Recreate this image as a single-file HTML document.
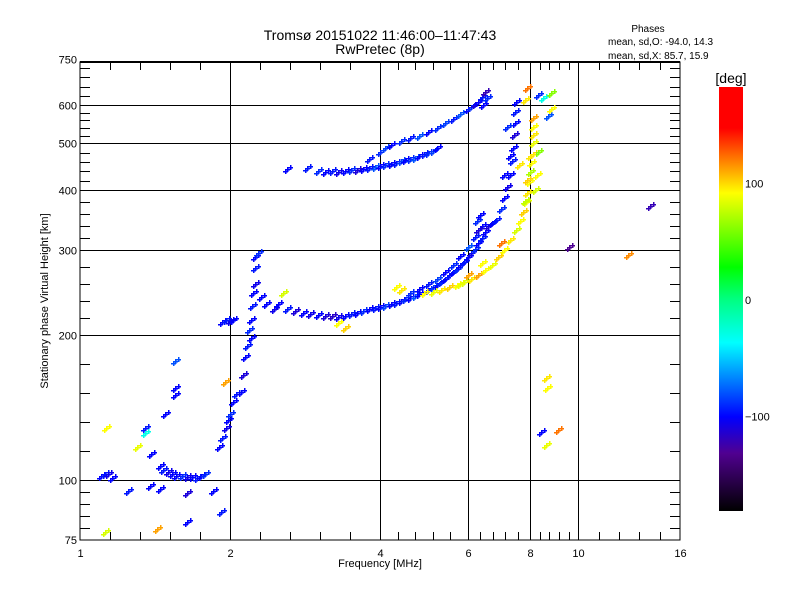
<!DOCTYPE html>
<html><head><meta charset="utf-8">
<style>
body{margin:0;background:#fff;}
svg text{font-family:"Liberation Sans",sans-serif;fill:#000;}
</style></head>
<body>
<svg id="chart" width="800" height="600" viewBox="0 0 800 600" xmlns="http://www.w3.org/2000/svg">
<defs>
<linearGradient id="cbar" x1="0" y1="1" x2="0" y2="0">
<stop offset="0" stop-color="#000000"/>
<stop offset="0.136" stop-color="#500090"/>
<stop offset="0.222" stop-color="#0000ff"/>
<stop offset="0.397" stop-color="#00ffff"/>
<stop offset="0.5" stop-color="#00ff80"/>
<stop offset="0.575" stop-color="#00ff00"/>
<stop offset="0.75" stop-color="#ffff00"/>
<stop offset="0.903" stop-color="#ff0000"/>
<stop offset="1" stop-color="#ff0000"/>
</linearGradient>
</defs>
<text x="380" y="40" font-size="14" text-anchor="middle">Tromsø 20151022 11:46:00–11:47:43</text>
<text x="380" y="54" font-size="14" text-anchor="middle">RwPretec (8p)</text>
<text x="648" y="32" font-size="10" text-anchor="middle">Phases</text>
<text x="608" y="45" font-size="10">mean, sd,O: -94.0, 14.3</text>
<text x="608" y="59" font-size="10">mean, sd,X:  85.7, 15.9</text>
<g id="grid"></g>
<g id="points"></g>
<rect x="80" y="62" width="600" height="478" fill="none" stroke="#000" stroke-width="1"/>
<line x1="80" y1="62" x2="680" y2="62" stroke="#000" stroke-width="2"/>
<g id="ticks"></g>
<text x="380" y="567" font-size="11" text-anchor="middle">Frequency [MHz]</text>
<text x="48" y="301" font-size="11" text-anchor="middle" transform="rotate(-90 48 301)">Stationary phase Virtual Height [km]</text>
<rect x="719" y="87" width="24" height="424" fill="url(#cbar)"/>
<text x="731" y="83" font-size="14" text-anchor="middle">[deg]</text>
<g id="cticks"></g>
</svg>
<script>
const xTicks=[1,2,4,6,8,10,16];
const yTicks=[75,100,200,300,400,500,600,750];
const cTicks=[100,0,-100];
// O trace (blue) and misc echoes: frequency MHz, height km, phase deg
const oFreq=[1.1,1.12,1.14,1.16,1.45,1.47,1.5,1.53,1.56,1.6,1.64,1.68,1.72,1.75,1.78,
1.9,1.93,1.96,1.98,2.0,2.03,2.06,2.1,2.12,2.14,2.16,2.2,1.93,1.96,2.0,2.03,2.18,2.2,2.21,2.22,2.25,2.24,2.25,2.28,2.31,2.36,2.45,
2.5,2.6,2.7,2.8,2.9,3.0,3.1,3.2,3.3,3.4,3.5,3.6,3.7,3.8,3.9,4.0,4.1,4.2,4.3,4.4,4.5,4.6,4.7,4.8,4.9,5.0,5.1,5.2,5.3,5.4,5.5,5.6,5.7,5.8,5.9,6.0,6.1,6.2,6.3,6.4,6.5,6.6,6.7,6.85,7.0,7.1,7.2,7.3,7.35,7.4,7.42,7.45,7.47,7.5,
4.6,4.8,5.0,5.2,5.4,5.6,5.8,6.0,6.2,6.4,6.25,6.35,6.3,
2.6,2.85,3.0,3.1,3.2,3.3,3.4,3.5,3.6,3.7,3.8,3.9,4.0,4.1,4.2,4.3,4.4,4.5,4.6,4.7,4.8,4.9,5.0,5.1,5.2,
3.8,4.0,4.1,4.2,4.4,4.6,4.8,5.0,5.2,5.4,5.6,5.8,6.0,6.1,6.2,6.3,6.4,6.5,6.45,6.55,
1.55,1.55,1.55,1.48,1.35,1.25,1.38,1.45,1.64,1.64,1.85,1.92,1.39,
13.9,9.6,8.4,8.3,8.5,8.7,7.3,7.2,7.1];
const oHeight=[102,103,103,101,107,105,104,103,102,102,101.5,101.5,101,102,103,
117,122,128,133,137,145,151,152,165,180,190,197,213,215,214,215,205,215,230,244,255,275,290,296,240,232,226,
232,226,224,222,221,220,219,219,218,219,221,222,224,226,228,229,230,232,233,235,237,239,241,243,245,248,251,254,258,262,266,270,274,279,284,290,296,302,310,318,327,337,342,346,365,385,405,430,460,490,520,550,580,610,
244,249,255,262,270,280,292,305,320,337,345,355,330,
443,445,438,436,437,436,438,440,440,443,444,446,448,450,453,456,459,462,464,466,470,474,478,483,489,
465,480,490,497,505,512,518,527,538,550,562,575,588,596,603,610,625,640,600,620,
177,155,150,137,128,95,97,96,94,82,95,86,113,
370,305,126,630,620,570,470,540,430];
const oPhase=[-100,-95,-105,-100,-100,-95,-105,-100,-100,-90,-105,-100,-95,-100,-90,
-100,-95,-105,-100,-90,-100,-95,-100,-110,-100,-95,-100,-100,-95,-105,-100,-90,-100,-95,-100,-105,-95,-100,-90,-100,-100,-105,
-100,-95,-110,-100,-105,-100,-110,-115,-105,-100,-95,-100,-90,-100,-95,-100,-85,-100,-95,-100,-90,-100,-80,-100,-95,-100,-85,-100,-90,-100,-95,-100,-90,-100,-95,-100,-105,-90,-100,-95,-100,-110,-100,-95,-90,-100,-105,-100,-95,-100,-110,-100,-95,-100,-90,-100,
-95,-85,-100,-90,-100,-80,-95,-100,-90,-100,-110,-100,-95,
-90,-100,-95,-105,-100,-90,-110,-100,-95,-80,-100,-90,-100,-95,-85,-100,-90,-80,-100,-95,-90,-85,-100,-95,-90,
-85,-100,-90,-95,-80,-100,-90,-85,-95,-80,-100,-90,-110,-100,-95,-120,-100,-90,-80,-100,
-100,-100,-95,-95,-100,-100,-110,-100,-100,-95,-100,-120,-130,
-100,-90,-30,-80,-100,-90,-100,-95,-100];
// X trace (yellow) and misc
const xFreq=[4.9,5.1,5.3,5.5,5.7,5.9,6.1,6.3,6.5,6.7,6.9,7.1,7.3,7.5,7.65,7.75,7.85,7.9,7.95,8.0,8.05,8.1,8.12,8.13,8.12,8.1,8.3,8.25,8.2,8.0,7.9,7.8,
4.3,4.4,3.3,3.4,6.0,5.8,6.4,7.0,
1.13,1.12,1.43,1.3,1.35,8.6,8.65,8.6,9.1,12.6,8.8,8.8,7.9,7.8,1.95,2.55,7.6];
const xHeight=[244,246,248,251,254,258,262,267,273,280,290,300,315,330,345,360,378,395,415,435,455,476,500,520,540,565,480,430,400,470,420,380,
252,248,212,207,266,255,282,310,
128,78,79,117,125,163,155,118,127,293,635,590,650,615,160,245,450];
const xPhase=[90,85,95,100,90,80,95,110,90,85,100,90,95,80,90,100,85,95,90,70,90,100,85,95,90,110,60,90,80,95,100,75,
90,95,90,100,110,85,90,120,
90,80,110,85,-30,95,90,85,120,115,60,90,120,95,110,80,95];

const X=f=>80+150*Math.log2(f);
const Y=h=>480-145*Math.log2(h/100);
const stops=[[-180,0,0,0],[-131,80,0,144],[-100,0,0,255],[-37,0,255,255],[0,0,255,128],[27,0,255,0],[90,255,255,0],[145,255,0,0],[180,255,0,0]];
function col(v){
 if(typeof v!=='number')v=-100;
 v=Math.max(-180,Math.min(180,v));
 for(let i=0;i<stops.length-1;i++){const a=stops[i],b=stops[i+1];
  if(v<=b[0]){const t=(v-a[0])/(b[0]-a[0]);
   return 'rgb('+[1,2,3].map(k=>Math.round(a[k]+t*(b[k]-a[k]))).join(',')+')';}}
 return 'red';
}
const NS='http://www.w3.org/2000/svg';
const grid=document.getElementById('grid'),ticks=document.getElementById('ticks'),pts=document.getElementById('points');
function ln(p,x1,y1,x2,y2,w){const l=document.createElementNS(NS,'line');
 l.setAttribute('x1',x1);l.setAttribute('y1',y1);l.setAttribute('x2',x2);l.setAttribute('y2',y2);
 l.setAttribute('stroke','#000');l.setAttribute('stroke-width',w||1);p.appendChild(l);return l;}
function tx(p,x,y,s,anchor,size){const t=document.createElementNS(NS,'text');
 t.setAttribute('x',x);t.setAttribute('y',y);t.setAttribute('font-size',size||11);t.setAttribute('text-anchor',anchor);t.textContent=s;p.appendChild(t);return t;}
xTicks.forEach((v,i)=>{
 const x=Math.round(X(v))+0.5;
 if(i>0&&i<xTicks.length-1){const g=ln(grid,x,62,x,540);
  
  }
 const t=tx(ticks,x,557,String(v),'middle');
 
 
 if(i<xTicks.length-1){const a=X(v),b=X(xTicks[i+1]);
  for(let k=1;k<5;k++){const xm=Math.round(a+(b-a)*k/5)+0.5;ln(ticks,xm,540,xm,532);ln(ticks,xm,62,xm,70);}}
});
yTicks.forEach((v,i)=>{
 const y=Math.round(Y(v))+0.5;
 if(i>0&&i<yTicks.length-1){const g=ln(grid,80,y,680,y);
  
  }
 const t=tx(ticks,77,Math.min(y+4,544),String(v),'end');
 
 
 if(i<yTicks.length-1){const a=Y(v),b=Y(yTicks[i+1]);
  for(let k=1;k<5;k++){const ym=Math.round(a+(b-a)*k/5)+0.5;ln(ticks,80,ym,90,ym);ln(ticks,670,ym,680,ym);}}
});
const ct=document.getElementById('cticks');
cTicks.forEach(v=>{const y=300-v*1.165;
 const t=tx(ct,745,y+4,v<0?'−'+Math.abs(v):String(v),'start',11);
 
 });
// each echo drawn as a small cluster of "+" glyphs (marker style)
function plus(x,y,c,name){
 x=Math.round(x);y=Math.round(y);
 const p=document.createElementNS(NS,'path');
 let d='';
 [[0,0],[3,-2],[-2,2]].forEach(o=>{const a=x+o[0],b=y+o[1];
  d+=`M${a-2} ${b}h5v1.5h-5zM${a} ${b-2}h1.5v5h-1.5z`;});
 p.setAttribute('d',d);
 p.setAttribute('fill',c);
 
 
 pts.appendChild(p);
}
oFreq.forEach((f,i)=>plus(X(f),Y(oHeight[i]),col(oPhase[i]),'o-echo'));
xFreq.forEach((f,i)=>plus(X(f),Y(xHeight[i]),col(xPhase[i]),'x-echo'));
</script>
</body></html>
